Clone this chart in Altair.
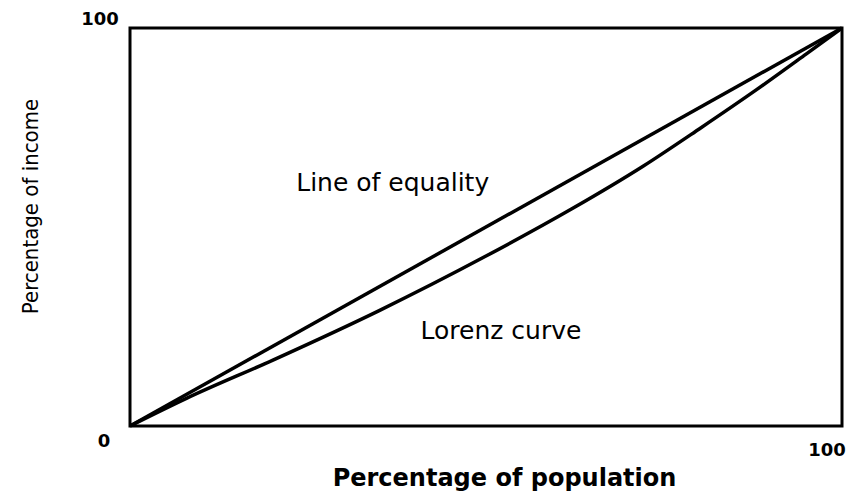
import altair as alt
import pandas as pd

# ---- data ----
equality_pop = [0, 100]
equality_income = [0, 100]

lorenz_pop = [0, 8, 20, 35, 50, 62, 72, 80, 88, 95, 100]
lorenz_income = [0, 7, 16.5, 29, 42.7, 54.5, 65.2, 74.7, 84.5, 93.5, 100]

annot_text = ["Line of equality", "Lorenz curve"]
annot_pop = [36.9, 52.1]
annot_income = [61.1, 23.9]

tick_text = ["100", "0", "100"]
tick_pop = [0, 0, 100]
tick_income = [100, 0, 0]

W, H = 712, 398

xs = alt.Scale(domain=[0, 100], nice=False, zero=True)
ys = alt.Scale(domain=[0, 100], nice=False, zero=True)

eq_df = pd.DataFrame({"pop": equality_pop, "income": equality_income})
lz_df = pd.DataFrame({"pop": lorenz_pop, "income": lorenz_income})
an_df = pd.DataFrame({"t": annot_text, "pop": annot_pop, "income": annot_income})

x_enc = alt.X("pop:Q", scale=xs,
              axis=alt.Axis(title="Percentage of population", labels=False, ticks=False,
                            domain=False, grid=False, titleX=374, titleY=59,
                            titleAlign="center", titleBaseline="alphabetic",
                            titleFont="DejaVu Sans", titleFontSize=24,
                            titleFontWeight="bold", titleColor="black"))
y_enc = alt.Y("income:Q", scale=ys,
              axis=alt.Axis(title="Percentage of income", labels=False, ticks=False,
                            domain=False, grid=False, titleX=-93, titleY=178,
                            titleAngle=270, titleAlign="center",
                            titleBaseline="alphabetic",
                            titleFont="Liberation Sans Narrow, DejaVu Sans Condensed, Roboto",
                            titleFontSize=22, titleFontWeight="normal",
                            titleColor="black"))

equality = alt.Chart(eq_df).mark_line(color="black", strokeWidth=3.5).encode(
    x=x_enc, y=y_enc)

lorenz = alt.Chart(lz_df).mark_line(color="black", strokeWidth=3.5,
                                    interpolate="monotone").encode(
    x=alt.X("pop:Q", scale=xs), y=alt.Y("income:Q", scale=ys))

annots = alt.Chart(an_df).mark_text(font="DejaVu Sans", fontSize=25,
                                    align="center", baseline="middle",
                                    color="black").encode(
    x=alt.X("pop:Q", scale=xs), y=alt.Y("income:Q", scale=ys), text="t:N")

tick_layers = []
offsets = [(-30, -8), (-26, 16), (-15, 25)]
for i in range(3):
    df = pd.DataFrame({"t": [tick_text[i]], "pop": [tick_pop[i]],
                       "income": [tick_income[i]]})
    dx, dy = offsets[i]
    tick_layers.append(
        alt.Chart(df).mark_text(font="DejaVu Sans", fontSize=18, fontWeight="bold",
                                align="center", baseline="middle", color="black",
                                dx=dx, dy=dy).encode(
            x=alt.X("pop:Q", scale=xs), y=alt.Y("income:Q", scale=ys),
            text="t:N"))

chart = alt.layer(equality, lorenz, annots, *tick_layers).properties(
    width=W, height=H,
    autosize=alt.AutoSizeParams(type="none"),
    padding={"left": 122, "top": 20, "right": 6, "bottom": 66},
    background="white",
).configure_view(stroke="black", strokeWidth=3)

chart.save("out.html", embed_options={"renderer": "svg", "actions": False})
